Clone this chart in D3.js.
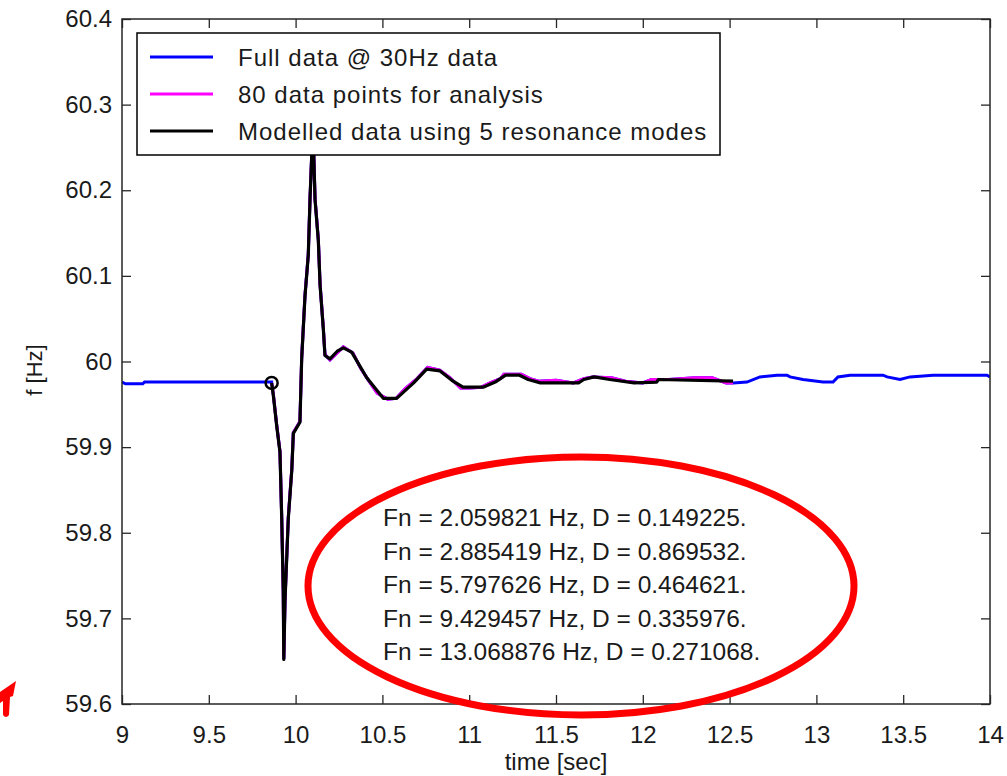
<!DOCTYPE html>
<html>
<head>
<meta charset="utf-8">
<script src="https://cdn.jsdelivr.net/npm/d3@7"></script>
<style>
  body { margin: 0; background: #fff; }
  svg text { font-family: "Liberation Sans", Arial, sans-serif; fill: #1a1a1a; }
</style>
</head>
<body>
<svg id="chart" width="1007" height="776"></svg>
<script>
// full data @ 30Hz, before and after the analysed window
const preTime  = [9.00, 9.02, 9.12, 9.13, 9.862];
const preFreq  = [59.976, 59.974, 59.974, 59.976, 59.976];
const postTime = [12.52, 12.60, 12.675, 12.773, 12.831, 12.848, 12.923, 13.038, 13.096, 13.124, 13.194, 13.384, 13.407, 13.482, 13.539, 13.672, 13.983, 14.0];
const postFreq = [59.975, 59.976, 59.982, 59.984, 59.984, 59.982, 59.979, 59.976, 59.976, 59.982, 59.984, 59.984, 59.982, 59.979, 59.982, 59.984, 59.984, 59.982];

// data points used for the analysis
const analysisTime = [9.862, 9.872, 9.891, 9.910, 9.920, 9.929, 9.932, 9.939, 9.958, 9.978, 9.987, 10.025, 10.035, 10.054, 10.073, 10.083, 10.093, 10.100, 10.112, 10.131, 10.141, 10.160, 10.169, 10.198, 10.275, 10.330, 10.375, 10.420, 10.470, 10.530, 10.580, 10.630, 10.700, 10.760, 10.830, 10.890, 10.950, 11.000, 11.070, 11.120, 11.180, 11.200, 11.300, 11.350, 11.400, 11.500, 11.600, 11.660, 11.710, 11.820, 11.900, 12.000, 12.050, 12.150, 12.300, 12.400, 12.480, 12.520];
const analysisFreq = [59.975, 59.961, 59.926, 59.895, 59.818, 59.731, 59.653, 59.722, 59.818, 59.874, 59.917, 59.930, 60.004, 60.077, 60.125, 60.190, 60.242, 60.274, 60.190, 60.142, 60.090, 60.038, 60.008, 60.002, 60.017, 60.010, 59.992, 59.978, 59.963, 59.956, 59.957, 59.968, 59.980, 59.993, 59.990, 59.981, 59.969, 59.969, 59.970, 59.975, 59.980, 59.985, 59.985, 59.980, 59.977, 59.978, 59.975, 59.980, 59.982, 59.981, 59.977, 59.975, 59.979, 59.979, 59.981, 59.981, 59.975, 59.975];

// modelled data using 5 resonance modes
const modelTime = [9.862, 9.872, 9.891, 9.910, 9.920, 9.929, 9.932, 9.939, 9.958, 9.978, 9.987, 10.025, 10.035, 10.054, 10.073, 10.083, 10.093, 10.100, 10.112, 10.131, 10.141, 10.160, 10.169, 10.198, 10.240, 10.275, 10.323, 10.410, 10.505, 10.582, 10.680, 10.755, 10.832, 10.900, 10.964, 11.080, 11.150, 11.210, 11.290, 11.340, 11.410, 11.630, 11.660, 11.720, 11.810, 11.950, 12.080, 12.090, 12.520];
const modelFreq = [59.975, 59.960, 59.925, 59.894, 59.817, 59.730, 59.652, 59.721, 59.817, 59.873, 59.916, 59.929, 60.003, 60.076, 60.124, 60.189, 60.241, 60.275, 60.189, 60.141, 60.089, 60.037, 60.007, 60.003, 60.012, 60.016, 60.011, 59.981, 59.957, 59.957, 59.975, 59.991, 59.989, 59.978, 59.970, 59.970, 59.976, 59.984, 59.984, 59.979, 59.975, 59.975, 59.979, 59.982, 59.979, 59.975, 59.976, 59.979, 59.977];

const xTicks = [9, 9.5, 10, 10.5, 11, 11.5, 12, 12.5, 13, 13.5, 14];
const yTicks = [59.6, 59.7, 59.8, 59.9, 60, 60.1, 60.2, 60.3, 60.4];

const legendNames = ["Full data @ 30Hz data", "80 data points for analysis", "Modelled data using 5 resonance modes"];
const modeFreq = ["2.059821", "2.885419", "5.797626", "9.429457", "13.068876"];
const modeDamp = ["0.149225", "0.869532", "0.464621", "0.335976", "0.271068"];

const svg = d3.select("#chart");
const plotLeft = 122, plotRight = 990, plotTop = 19, plotBottom = 704;

const x = d3.scaleLinear().domain([9, 14]).range([plotLeft, plotRight]);
const y = d3.scaleLinear().domain([59.6, 60.4]).range([plotBottom, plotTop]);

const zip = (ts, fs) => ts.map((t, i) => ({t, f: fs[i]}));
const fullData = zip(preTime, preFreq).concat(zip(analysisTime, analysisFreq), zip(postTime, postFreq));
const analysisData = zip(analysisTime, analysisFreq);
const modelData = zip(modelTime, modelFreq);

svg.append("clipPath").attr("id", "plotclip")
  .append("rect").attr("x", plotLeft).attr("y", plotTop)
  .attr("width", plotRight - plotLeft).attr("height", plotBottom - plotTop);

const line = d3.line().x(d => x(d.t)).y(d => y(d.f));
const plot = svg.append("g").attr("clip-path", "url(#plotclip)");

plot.append("path").datum(fullData)
  .attr("d", line).attr("fill", "none").attr("stroke", "#0000ff").attr("stroke-width", 3);
plot.append("path").datum(analysisData)
  .attr("d", line).attr("fill", "none").attr("stroke", "#ff00ff").attr("stroke-width", 3);
plot.append("path").datum(modelData)
  .attr("d", line).attr("fill", "none").attr("stroke", "#000").attr("stroke-width", 3.2)
  .attr("stroke-linejoin", "round");

// circle at the start of the event
svg.append("circle")
  .attr("cx", x(modelTime[0])).attr("cy", y(modelFreq[0])).attr("r", 6)
  .attr("fill", "none").attr("stroke", "#000").attr("stroke-width", 2.5);

// axes, ticks inside the box
const styleAxis = g => {
  g.select(".domain").remove();
  g.selectAll(".tick line").attr("stroke", "#262626").attr("stroke-width", 1.3);
  g.selectAll(".tick text").style("font-size", "24px").attr("fill", "#1a1a1a");
};

svg.append("g").attr("transform", `translate(0,${plotBottom})`)
  .call(d3.axisBottom(x).tickValues(xTicks).tickFormat(d3.format("")).tickSizeInner(-9).tickSizeOuter(0).tickPadding(22))
  .call(styleAxis);
svg.append("g").attr("transform", `translate(0,${plotTop})`)
  .call(d3.axisTop(x).tickValues(xTicks).tickFormat("").tickSizeInner(-9).tickSizeOuter(0))
  .call(styleAxis);
svg.append("g").attr("transform", `translate(${plotLeft},0)`)
  .call(d3.axisLeft(y).tickValues(yTicks).tickFormat(d3.format("")).tickSizeInner(-9).tickSizeOuter(0).tickPadding(10))
  .call(styleAxis);
svg.append("g").attr("transform", `translate(${plotRight},0)`)
  .call(d3.axisRight(y).tickValues(yTicks).tickFormat("").tickSizeInner(-9).tickSizeOuter(0))
  .call(styleAxis);

svg.append("rect")
  .attr("x", plotLeft).attr("y", plotTop)
  .attr("width", plotRight - plotLeft).attr("height", plotBottom - plotTop)
  .attr("fill", "none").attr("stroke", "#262626").attr("stroke-width", 1.5);

// axis titles
svg.append("text").attr("x", (plotLeft + plotRight) / 2).attr("y", 770)
  .attr("text-anchor", "middle").style("font-size", "24px").text("time [sec]");
svg.append("text").attr("transform", "translate(42,370) rotate(-90)")
  .attr("text-anchor", "middle").style("font-size", "22px").text("f [Hz]");

// legend
const colors = ["#0000ff", "#ff00ff", "#000"];
const leg = svg.append("g");
leg.append("rect").attr("x", 137).attr("y", 33).attr("width", 583).attr("height", 122)
  .attr("fill", "#fff").attr("stroke", "#000").attr("stroke-width", 1.5);
legendNames.forEach((name, i) => {
  const yy = 57 + i * 37;
  leg.append("line").attr("x1", 150).attr("x2", 213).attr("y1", yy).attr("y2", yy)
    .attr("stroke", colors[i]).attr("stroke-width", 3);
  leg.append("text").attr("x", 238).attr("y", yy + 9)
    .style("font-size", "24px").style("letter-spacing", "1px").text(name);
});

// annotation with the resonance modes
modeFreq.forEach((fn, i) => {
  svg.append("text").attr("x", 383).attr("y", 526 + i * 33.6)
    .style("font-size", "24.5px").text(`Fn = ${fn} Hz, D = ${modeDamp[i]}.`);
});
svg.append("ellipse").attr("cx", 581).attr("cy", 586).attr("rx", 273).attr("ry", 129)
  .attr("fill", "none").attr("stroke", "#ff0000").attr("stroke-width", 7);

// red mark at the lower left
svg.append("path")
  .attr("d", "M16,681 L13,696 L10,697 L9,715 Q6,719 3,715 L3,701 L0,703 L0,692 Z")
  .attr("fill", "#ff0000");
</script>
</body>
</html>
